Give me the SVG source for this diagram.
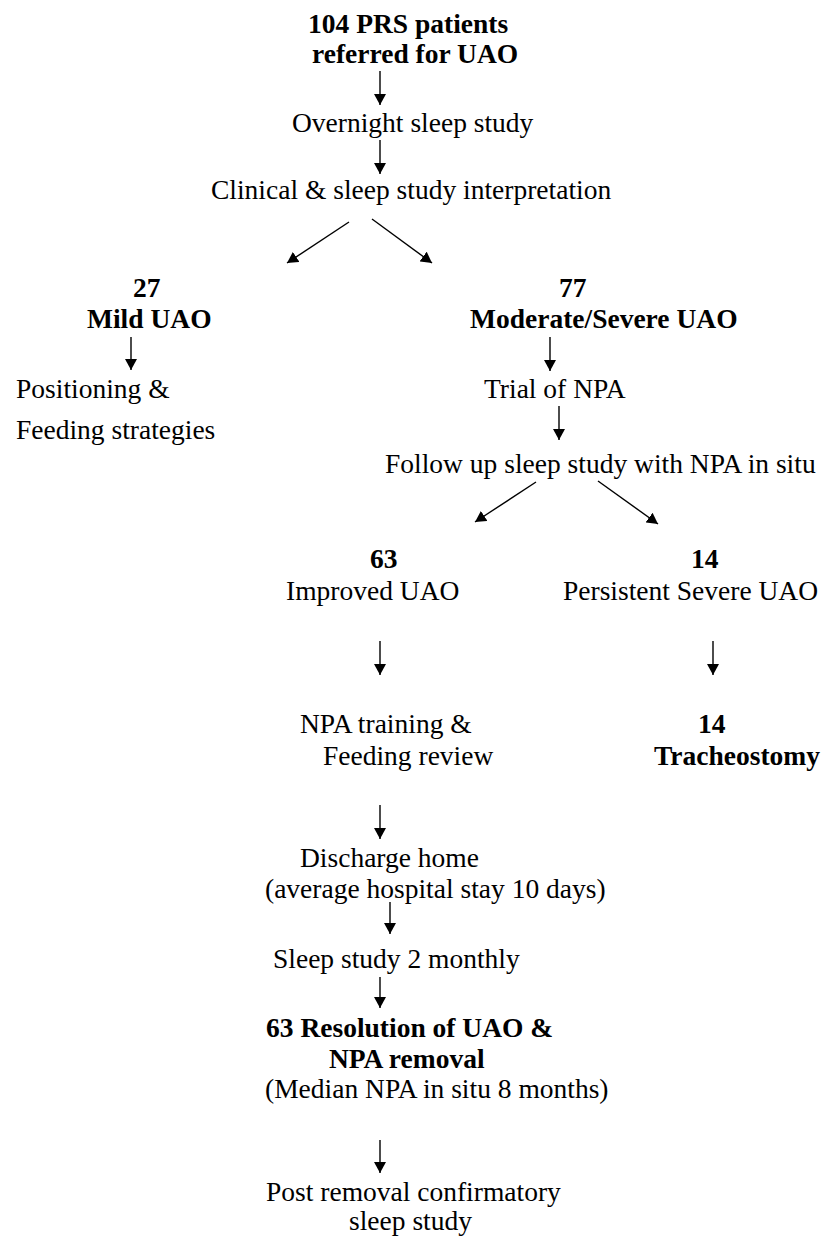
<svg xmlns="http://www.w3.org/2000/svg" width="825" height="1239" viewBox="0 0 825 1239">
<style>
text{font-family:"Liberation Serif","Times New Roman",serif;font-size:27.5px;fill:#000}
.b{font-weight:bold}
.c line{stroke:#000;stroke-width:1.4;marker-end:url(#ah)}
</style>
<defs>
<marker id="ah" markerUnits="userSpaceOnUse" markerWidth="12" markerHeight="12" refX="11" refY="6" orient="auto">
<path d="M0,0 L11,6 L0,12 z" fill="#000"/>
</marker>
</defs>
<rect width="825" height="1239" fill="#fff"/>
<g id="n-start"><text class="b" x="308" y="33">104 PRS patients</text><text class="b" x="312" y="63">referred for UAO</text></g>
<g id="n-overnight"><text x="292" y="132">Overnight sleep study</text></g>
<g id="n-clinical"><text x="211" y="199">Clinical &amp; sleep study interpretation</text></g>
<g id="n-mild"><text class="b" x="133" y="297">27</text><text class="b" x="87" y="328">Mild UAO</text></g>
<g id="n-positioning"><text x="16" y="398">Positioning &amp;</text><text x="16" y="439">Feeding strategies</text></g>
<g id="n-modsev"><text class="b" x="559" y="297">77</text><text class="b" x="470" y="328">Moderate/Severe UAO</text></g>
<g id="n-trial"><text x="484" y="398">Trial of NPA</text></g>
<g id="n-followup"><text x="385" y="473">Follow up sleep study with NPA in situ</text></g>
<g id="n-improved"><text class="b" x="370" y="568">63</text><text x="286" y="600">Improved UAO</text></g>
<g id="n-persistent"><text class="b" x="691" y="568">14</text><text x="563" y="600">Persistent Severe UAO</text></g>
<g id="n-training"><text x="300" y="733">NPA training &amp;</text><text x="323" y="765">Feeding review</text></g>
<g id="n-trach"><text class="b" x="698" y="733">14</text><text class="b" x="654" y="765">Tracheostomy</text></g>
<g id="n-discharge"><text x="300" y="867">Discharge home</text><text x="265" y="898">(average hospital stay 10 days)</text></g>
<g id="n-sleep2"><text x="273" y="968">Sleep study 2 monthly</text></g>
<g id="n-resolution"><text class="b" x="266" y="1037">63 Resolution of UAO &amp;</text><text class="b" x="329" y="1068">NPA removal</text><text x="265" y="1098">(Median NPA in situ 8 months)</text></g>
<g id="n-post"><text x="266" y="1201">Post removal confirmatory</text><text x="349" y="1230">sleep study</text></g>
<g id="connectors" class="c">
<line x1="380" y1="71" x2="380" y2="105"/>
<line x1="380" y1="140" x2="380" y2="174"/>
<line x1="349" y1="222" x2="287" y2="263"/>
<line x1="372" y1="219" x2="432" y2="263"/>
<line x1="131" y1="337" x2="131" y2="370"/>
<line x1="550" y1="337" x2="550" y2="371"/>
<line x1="559" y1="406" x2="559" y2="440"/>
<line x1="536" y1="482" x2="475" y2="522"/>
<line x1="598" y1="481" x2="658" y2="524"/>
<line x1="380" y1="641" x2="380" y2="675"/>
<line x1="713" y1="641" x2="713" y2="675"/>
<line x1="380" y1="805" x2="380" y2="839"/>
<line x1="390" y1="902" x2="390" y2="934"/>
<line x1="380" y1="977" x2="380" y2="1008"/>
<line x1="380" y1="1140" x2="380" y2="1173"/>
</g>
</svg>
